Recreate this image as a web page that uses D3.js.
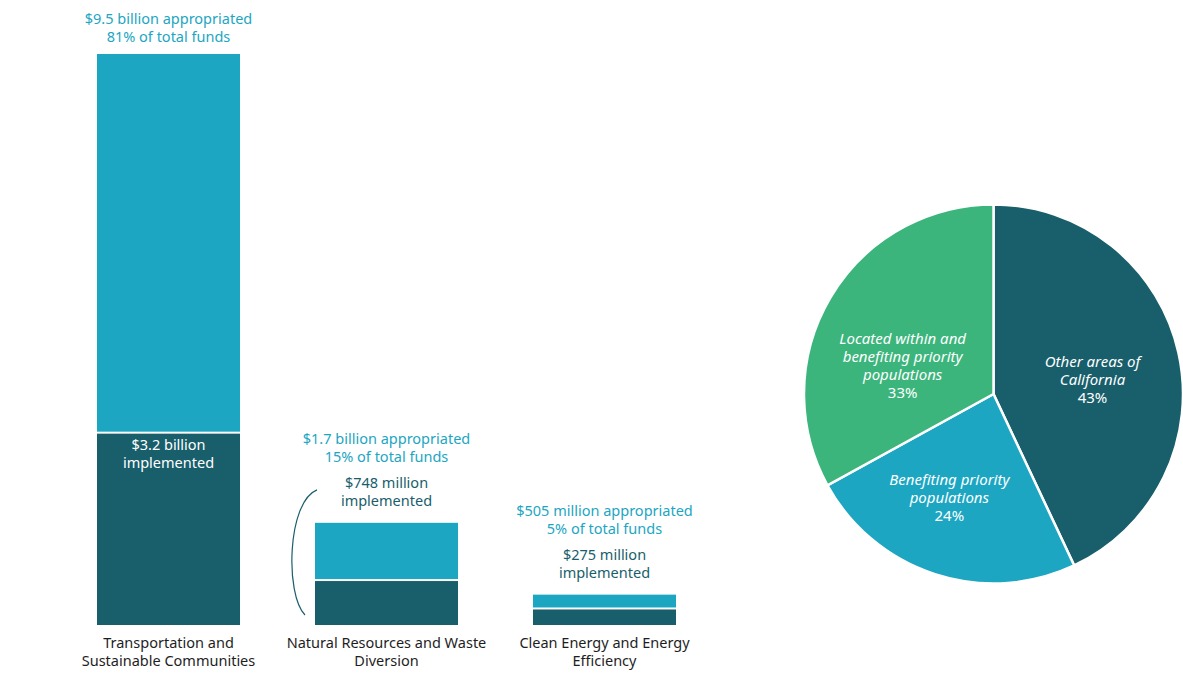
<!DOCTYPE html>
<html><head><meta charset="utf-8">
<script src="https://cdn.jsdelivr.net/npm/d3@7"></script>
<style>body{margin:0;background:#fff}svg{display:block}text{font-family:"Noto Sans",sans-serif}</style>
</head><body><svg id="c" width="1183" height="697"></svg>
<script>
const categories = ["Transportation and|Sustainable Communities","Natural Resources and Waste|Diversion","Clean Energy and Energy|Efficiency"];
const appropriated = [9.5, 1.7, 0.505];
const implemented = [3.2, 0.748, 0.275];
const appropLabels = ["$9.5 billion appropriated|81% of total funds","$1.7 billion appropriated|15% of total funds","$505 million appropriated|5% of total funds"];
const implLabels = ["$3.2 billion|implemented","$748 million|implemented","$275 million|implemented"];
const pieLabels = ["Other areas of|California|43%","Benefiting priority|populations|24%","Located within and|benefiting priority|populations|33%"];
const pieValues = [43, 24, 33];

const C_LIGHT="#1ca6c2", C_DARK="#185e6b", C_GREEN="#3bb57c";
const FS=14.5, LH=18;
const svg=d3.select("#c");

const x=d3.scaleBand().domain(categories).range([97,676]).paddingInner(0.344).paddingOuter(0);
const y=d3.scaleLinear().domain([0,9.5]).range([625,54]);

const g=svg.append("g");
categories.forEach((c,i)=>{
  const bx=x(c), bw=x.bandwidth(), cx=bx+bw/2;
  g.append("rect").attr("x",bx).attr("y",y(appropriated[i])).attr("width",bw).attr("height",y(implemented[i])-y(appropriated[i])-1).attr("fill",C_LIGHT);
  g.append("rect").attr("x",bx).attr("y",y(implemented[i])+1).attr("width",bw).attr("height",y(0)-y(implemented[i])-1).attr("fill",C_DARK);
  const cl=g.append("text").attr("text-anchor","middle").attr("font-size",FS).attr("fill","#1e1e1e");
  categories[i].split("|").forEach((t,k)=>cl.append("tspan").attr("x",cx).attr("y",648+k*LH).text(t));
  const top=y(appropriated[i]);
  if(i===0){
    const al=g.append("text").attr("text-anchor","middle").attr("font-size",FS).attr("fill",C_LIGHT);
    appropLabels[i].split("|").forEach((t,k)=>al.append("tspan").attr("x",cx).attr("y",top-30+k*LH).text(t));
    const il=g.append("text").attr("text-anchor","middle").attr("font-size",FS).attr("fill","#fff");
    implLabels[i].split("|").forEach((t,k)=>il.append("tspan").attr("x",cx).attr("y",y(implemented[i])+17+k*LH).text(t));
  } else {
    const al=g.append("text").attr("text-anchor","middle").attr("font-size",FS).attr("fill",C_LIGHT);
    appropLabels[i].split("|").forEach((t,k)=>al.append("tspan").attr("x",cx).attr("y",top-79+k*LH).text(t));
    const il=g.append("text").attr("text-anchor","middle").attr("font-size",FS).attr("fill",C_DARK);
    implLabels[i].split("|").forEach((t,k)=>il.append("tspan").attr("x",cx).attr("y",top-35+k*LH).text(t));
    if(i===1){
      const y0=top-33, y1=y(0)-10;
      g.append("path").attr("d",`M${bx+2},${y0} C${bx-28},${y0+12} ${bx-30},${y1-20} ${bx-10},${y1}`)
        .attr("fill","none").attr("stroke",C_DARK).attr("stroke-width",1.2);
    }
  }
});

// pie
const cx=993.5, cy=394, r=189.5;
const pie=d3.pie().sort(null).value(d=>d)(pieValues);
const arc=d3.arc().innerRadius(0).outerRadius(r);
const colors=[C_DARK,C_LIGHT,C_GREEN];
const pg=svg.append("g").attr("transform",`translate(${cx},${cy})`);
pg.selectAll("path").data(pie).join("path").attr("d",arc).attr("fill",(d,i)=>colors[i]).attr("stroke","#fff").attr("stroke-width",2.5);
const lr=[100,113,95], lshift=[4.5,5,-13.6];
pie.forEach((d,i)=>{
  const a=(d.startAngle+d.endAngle)/2+lshift[i]*Math.PI/180;
  const px=Math.sin(a)*lr[i], py=-Math.cos(a)*lr[i];
  const lines=pieLabels[i].split("|");
  const t=pg.append("text").attr("text-anchor","middle").attr("font-size",15).attr("fill","#fff");
  lines.forEach((s,k)=>t.append("tspan").attr("x",px).attr("y",py+5+(k-(lines.length-1)/2)*LH)
    .attr("font-style",k<lines.length-1?"italic":"normal").text(s));
});
</script></body></html>
